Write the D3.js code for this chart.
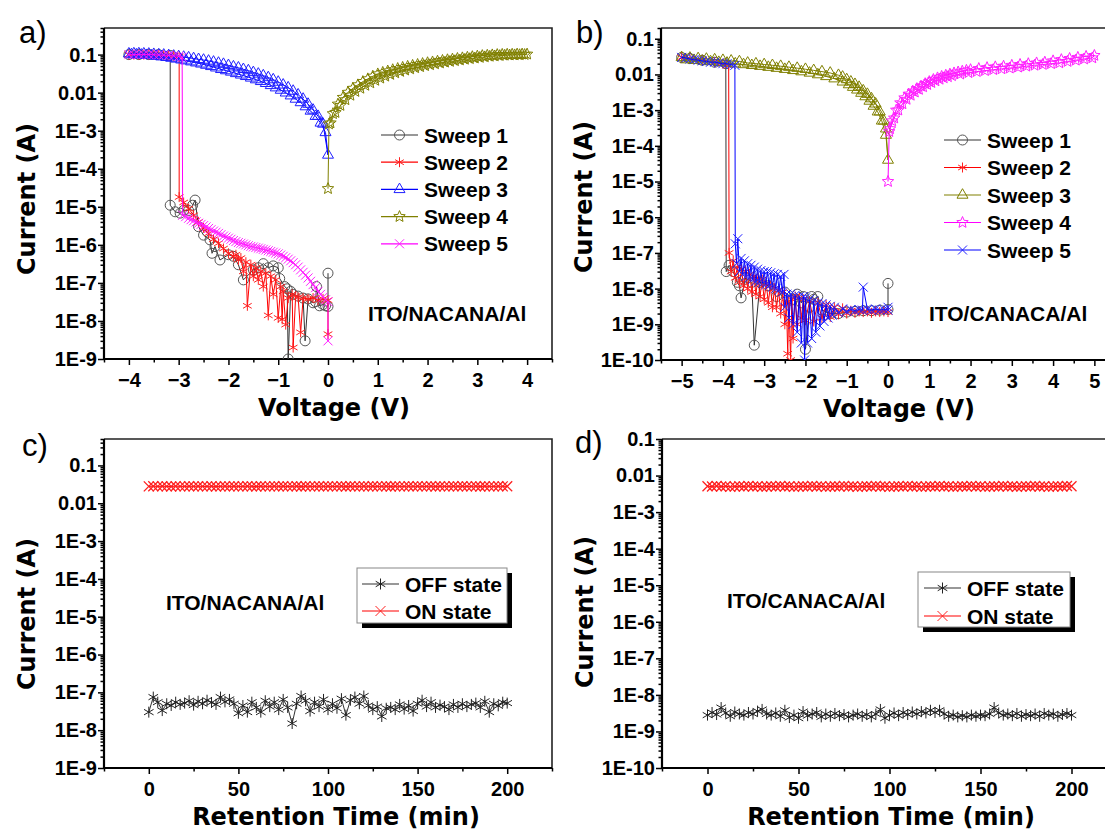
<!DOCTYPE html>
<html>
<head>
<meta charset="utf-8">
<script src="https://cdn.jsdelivr.net/npm/d3@7"></script>
<style>
  body { margin: 0; background: #fff; }
  svg { display: block; }
</style>
</head>
<body>
<svg id="chart" width="1105" height="831"></svg>
<script>
// ---------- panel a: ITO/NACANA/Al, I-V sweeps [V, I] ----------
const sweepA1 = [[0,1.8e-7],[0,2.4e-8],[-0.05,2.5e-8],[-0.1,2.7e-8],[-0.17,2.5e-8],[-0.23,8e-8],[-0.25,3.2e-8],[-0.3,3e-8],
  [-0.4,3.8e-8],[-0.46,3e-9],[-0.5,4e-8],[-0.6,4.5e-8],[-0.7,5e-8],[-0.75,6e-8],[-0.8,1e-9],[-0.82,7e-8],[-0.87,8e-8],
  [-0.97,1.3e-7],[-1.0,2.5e-7],[-1.1,2.8e-7],[-1.2,2.5e-7],[-1.3,3.2e-7],[-1.4,2.5e-7],[-1.5,2.2e-7],[-1.7,1.2e-7],
  [-1.8,3e-7],[-1.9,5e-7],[-2.0,5.5e-7],[-2.17,4e-7],[-2.27,9e-7],[-2.33,6e-7],[-2.37,1.35e-6],[-2.5,1.8e-6],[-2.6,3e-6],
  [-2.67,1.5e-5],[-2.72,1.1e-5],[-2.8,8e-6],[-2.9,8.1e-6],[-2.97,6.8e-6],[-3.07,7.4e-6],[-3.17,1.1e-5],[-3.17,0.095],
  [-3.4,0.1],[-3.6,0.1],[-3.8,0.1],[-4.0,0.1]];
const sweepA2 = [[0,4.5e-9],[0,3.5e-8],[-0.1,3.8e-8],[-0.2,3.5e-8],[-0.3,4e-8],[-0.4,3.8e-8],[-0.5,4e-8],[-0.55,5e-9],
  [-0.6,4.2e-8],[-0.65,4.5e-8],[-0.7,2e-9],[-0.72,5e-8],[-0.8,4e-8],[-0.85,8e-9],[-0.9,6e-8],[-0.92,1.1e-8],[-0.95,8e-8],
  [-1.0,1.2e-8],[-1.05,1.2e-7],[-1.1,5e-8],[-1.15,1.5e-7],[-1.2,1.4e-8],[-1.25,1.8e-7],[-1.3,8e-8],[-1.35,2e-7],
  [-1.4,1.2e-7],[-1.45,2.5e-7],[-1.5,1.5e-7],[-1.55,3e-7],[-1.62,2.5e-8],[-1.65,3.5e-7],[-1.7,2e-7],[-1.75,4.5e-7],
  [-1.8,4e-7],[-1.85,5.5e-7],[-1.9,5e-7],[-2.0,6e-7],[-2.1,8e-7],[-2.2,1.1e-6],[-2.3,1.4e-6],[-2.4,2e-6],[-2.5,2.8e-6],
  [-2.6,4e-6],[-2.7,6e-6],[-2.8,9e-6],[-2.9,1.3e-5],[-2.99,1.8e-5],[-2.99,0.09],[-3.1,0.093],[-3.2,0.095],[-3.3,0.097],
  [-3.4,0.1],[-3.5,0.1],[-3.6,0.1],[-3.7,0.1],[-3.8,0.1],[-3.9,0.1],[-4.0,0.1]];
const sweepA3 = [[-4.0,0.105],[-3.9,0.106],[-3.8,0.106],[-3.7,0.105],[-3.6,0.104],[-3.5,0.102],[-3.4,0.1],[-3.3,0.098],
  [-3.2,0.095],[-3.1,0.092],[-3.0,0.089],[-2.9,0.086],[-2.8,0.083],[-2.7,0.079],[-2.6,0.075],[-2.5,0.072],[-2.4,0.068],
  [-2.3,0.064],[-2.2,0.06],[-2.1,0.056],[-2.0,0.052],[-1.9,0.048],[-1.8,0.045],[-1.7,0.041],[-1.6,0.038],[-1.5,0.034],
  [-1.4,0.031],[-1.3,0.028],[-1.2,0.025],[-1.1,0.022],[-1.0,0.019],[-0.9,0.016],[-0.8,0.0135],[-0.7,0.011],[-0.6,0.0088],
  [-0.5,0.0068],[-0.4,0.005],[-0.3,0.0035],[-0.2,0.0024],[-0.1,0.0015],[0,2.3e-4]];
const sweepA3back = [[-0.05,0.0009],[-0.15,0.0016],[-0.25,0.0024],[-0.35,0.0033],[-0.45,0.0043],[-0.55,0.0055],
  [-0.65,0.0068],[-0.75,0.0083],[-0.85,0.0099],[-0.95,0.0117],[-1.05,0.0135],[-1.15,0.0155],[-1.25,0.0176],[-1.35,0.0198],
  [-1.45,0.022],[-1.55,0.0244],[-1.65,0.0268],[-1.75,0.0293],[-1.85,0.032],[-1.95,0.035],[-2.05,0.038],[-2.15,0.041],
  [-2.25,0.045],[-2.35,0.049],[-2.45,0.053],[-2.55,0.057],[-2.65,0.061],[-2.75,0.065],[-2.85,0.069],[-2.95,0.073],
  [-3.05,0.077],[-3.15,0.081],[-3.25,0.085],[-3.35,0.088],[-3.45,0.091],[-3.55,0.094],[-3.65,0.096],[-3.75,0.098],
  [-3.85,0.099],[-3.95,0.1]];
const sweepA4 = [[0,3e-5],[0.02,1.5e-3],[0.1,0.0028],[0.2,0.005],[0.3,0.0075],[0.4,0.0102],[0.5,0.013],[0.6,0.016],
  [0.7,0.0195],[0.8,0.023],[0.9,0.027],[1.0,0.031],[1.1,0.034],[1.2,0.037],[1.3,0.04],[1.4,0.043],[1.5,0.046],[1.6,0.049],
  [1.7,0.052],[1.8,0.055],[1.9,0.058],[2.0,0.061],[2.1,0.064],[2.2,0.067],[2.3,0.07],[2.4,0.073],[2.5,0.076],[2.6,0.079],
  [2.7,0.082],[2.8,0.085],[2.9,0.088],[3.0,0.091],[3.1,0.094],[3.2,0.096],[3.3,0.098],[3.4,0.1],[3.5,0.101],[3.6,0.102],
  [3.7,0.102],[3.8,0.103],[3.9,0.103],[4.0,0.103]];
const sweepA4back = [[3.95,0.1],[3.85,0.099],[3.75,0.098],[3.65,0.097],[3.55,0.096],[3.45,0.094],[3.35,0.092],
  [3.25,0.09],[3.15,0.087],[3.05,0.084],[2.95,0.081],[2.85,0.078],[2.75,0.075],[2.65,0.072],[2.55,0.069],[2.45,0.066],
  [2.35,0.063],[2.25,0.06],[2.15,0.057],[2.05,0.054],[1.95,0.051],[1.85,0.048],[1.75,0.045],[1.65,0.042],[1.55,0.039],
  [1.45,0.036],[1.35,0.033],[1.25,0.03],[1.15,0.027],[1.05,0.024],[0.95,0.021],[0.85,0.018],[0.75,0.0155],[0.65,0.013],
  [0.55,0.0107],[0.45,0.0085],[0.35,0.0065],[0.25,0.0046],[0.15,0.003],[0.05,0.0016]];
const sweepA5 = [[0,3e-9],[0,3.2e-8],[-0.05,3.6e-8],[-0.1,4.2e-8],[-0.15,5e-8],[-0.2,6e-8],[-0.25,7.5e-8],[-0.3,9e-8],
  [-0.35,1.1e-7],[-0.4,1.35e-7],[-0.45,1.6e-7],[-0.5,1.9e-7],[-0.55,2.2e-7],[-0.6,2.6e-7],[-0.65,3e-7],[-0.7,3.4e-7],
  [-0.75,3.8e-7],[-0.8,4.2e-7],[-0.85,4.6e-7],[-0.9,5e-7],[-0.95,5.4e-7],[-1.0,5.8e-7],[-1.05,6.1e-7],[-1.1,6.4e-7],
  [-1.15,6.7e-7],[-1.2,7e-7],[-1.25,7.3e-7],[-1.3,7.6e-7],[-1.35,7.9e-7],[-1.4,8.2e-7],[-1.45,8.5e-7],[-1.5,8.8e-7],
  [-1.55,9.1e-7],[-1.6,9.5e-7],[-1.65,1e-6],[-1.7,1.05e-6],[-1.75,1.1e-6],[-1.8,1.15e-6],[-1.85,1.22e-6],[-1.9,1.3e-6],
  [-1.95,1.4e-6],[-2.0,1.5e-6],[-2.05,1.6e-6],[-2.1,1.7e-6],[-2.15,1.85e-6],[-2.2,2e-6],[-2.25,2.15e-6],[-2.3,2.3e-6],
  [-2.35,2.5e-6],[-2.4,2.7e-6],[-2.45,2.95e-6],[-2.5,3.2e-6],[-2.55,3.45e-6],[-2.6,3.7e-6],[-2.65,4e-6],[-2.7,4.3e-6],
  [-2.75,4.6e-6],[-2.8,5e-6],[-2.86,5.5e-6],[-2.92,6e-6],[-2.93,0.085],[-3.0,0.09],[-3.1,0.093],[-3.2,0.095],[-3.3,0.097],
  [-3.4,0.098],[-3.5,0.1],[-3.6,0.1],[-3.7,0.101],[-3.8,0.101],[-3.9,0.1],[-4.0,0.1]];

// ---------- panel b: ITO/CANACA/Al, I-V sweeps [V, I] ----------
const sweepB1 = [[0,1.4e-8],[0,2.6e-9],[-0.2,2.5e-9],[-0.4,2.4e-9],[-0.6,2.4e-9],[-0.8,2.3e-9],[-1.0,2.2e-9],[-1.2,2e-9],
  [-1.4,2e-9],[-1.6,2.5e-9],[-1.7,6e-9],[-1.8,5e-9],[-1.85,6e-9],[-1.9,3e-9],[-2.0,2e-10],[-2.05,6e-9],[-2.1,4e-9],
  [-2.2,7e-9],[-2.3,5e-9],[-2.5,8e-9],[-2.7,6e-9],[-2.9,1.2e-8],[-3.1,1.5e-8],[-3.24,2.6e-10],[-3.3,1.5e-8],[-3.45,2e-8],
  [-3.56,5.5e-9],[-3.6,1.2e-8],[-3.65,1.5e-8],[-3.75,3e-8],[-3.85,4.5e-8],[-3.92,3e-8],[-3.93,0.02],[-4.2,0.022],
  [-4.5,0.025],[-4.8,0.028],[-5.0,0.03]];
const sweepB2 = [[0,2.2e-9],[-0.1,2.3e-9],[-0.2,2.2e-9],[-0.3,2.3e-9],[-0.4,2.1e-9],[-0.5,2.3e-9],[-0.6,2.2e-9],
  [-0.7,2.3e-9],[-0.8,2.1e-9],[-0.9,2.4e-9],[-1.0,2e-9],[-1.1,2.8e-9],[-1.2,1.9e-9],[-1.3,3e-9],[-1.4,1.6e-9],[-1.5,3.5e-9],
  [-1.6,1.5e-9],[-1.7,4e-9],[-1.8,1.2e-9],[-1.9,4.5e-9],[-2.0,1.3e-9],[-2.05,5e-9],[-2.1,1.5e-9],[-2.15,5.5e-9],
  [-2.2,1e-9],[-2.25,6e-9],[-2.3,4e-10],[-2.33,5e-9],[-2.36,1e-10],[-2.4,4e-9],[-2.43,1.5e-10],[-2.46,4e-9],[-2.5,1e-9],
  [-2.55,8e-9],[-2.6,2e-9],[-2.65,9e-9],[-2.7,3e-9],[-2.75,1e-8],[-2.8,3e-9],[-2.85,1.2e-8],[-2.9,4e-9],[-2.95,1.4e-8],
  [-3.0,5e-9],[-3.05,1.8e-8],[-3.1,6e-9],[-3.15,2e-8],[-3.2,7e-9],[-3.25,2.2e-8],[-3.3,8e-9],[-3.35,2.5e-8],[-3.4,1e-8],
  [-3.45,3e-8],[-3.5,1.2e-8],[-3.55,3.5e-8],[-3.6,1.5e-8],[-3.65,4e-8],[-3.7,2e-8],[-3.75,6e-8],[-3.8,3e-8],[-3.85,1e-7],
  [-3.86,0.018],[-4.0,0.02],[-4.2,0.022],[-4.5,0.025],[-4.8,0.028],[-5.0,0.03]];
const sweepB3 = [[-5.0,0.03],[-4.8,0.029],[-4.6,0.028],[-4.4,0.027],[-4.2,0.026],[-4.0,0.025],[-3.8,0.024],[-3.6,0.023],
  [-3.4,0.021],[-3.2,0.02],[-3.0,0.019],[-2.8,0.018],[-2.6,0.017],[-2.4,0.016],[-2.2,0.015],[-2.0,0.014],[-1.8,0.013],
  [-1.6,0.012],[-1.4,0.011],[-1.2,0.0095],[-1.1,0.0085],[-1.0,0.0072],[-0.9,0.0062],[-0.8,0.0053],[-0.7,0.0044],
  [-0.6,0.0035],[-0.5,0.0028],[-0.4,0.0021],[-0.3,0.0015],[-0.2,9e-4],[-0.1,5e-4],[-0.05,3e-4],[0,4e-5]];
const sweepB3back = [[-0.05,2e-4],[-0.15,5e-4],[-0.25,9e-4],[-0.35,0.0013],[-0.45,0.0018],[-0.55,0.0024],[-0.65,0.003],
  [-0.75,0.0037],[-0.85,0.0044],[-0.95,0.0052],[-1.1,0.0062],[-1.3,0.0076],[-1.5,0.0088],[-1.7,0.0099],[-1.9,0.011],
  [-2.1,0.012],[-2.3,0.013],[-2.5,0.014],[-2.7,0.015],[-2.9,0.016],[-3.1,0.017],[-3.3,0.018],[-3.5,0.019],[-3.7,0.02],
  [-3.9,0.021],[-4.1,0.022],[-4.3,0.023],[-4.5,0.024],[-4.7,0.025],[-4.9,0.026]];
const sweepB4 = [[0,1e-5],[0.03,2.5e-4],[0.1,5e-4],[0.2,0.001],[0.3,0.0016],[0.4,0.0022],[0.5,0.0028],[0.6,0.0034],
  [0.7,0.004],[0.8,0.0047],[0.9,0.0055],[1.0,0.0063],[1.1,0.0072],[1.2,0.008],[1.3,0.0088],[1.4,0.0095],[1.5,0.0102],
  [1.6,0.011],[1.7,0.0117],[1.8,0.0123],[1.9,0.013],[2.0,0.0136],[2.2,0.0146],[2.4,0.0155],[2.6,0.0163],[2.8,0.017],
  [3.0,0.018],[3.2,0.019],[3.4,0.02],[3.6,0.021],[3.8,0.022],[4.0,0.024],[4.2,0.026],[4.4,0.028],[4.6,0.03],[4.8,0.032],
  [5.0,0.034]];
const sweepB4back = [[4.95,0.029],[4.75,0.027],[4.55,0.025],[4.35,0.023],[4.15,0.021],[3.95,0.02],[3.75,0.019],
  [3.55,0.018],[3.35,0.017],[3.15,0.016],[2.95,0.015],[2.75,0.0143],[2.55,0.0136],[2.35,0.0128],[2.15,0.012],
  [1.95,0.0112],[1.75,0.0102],[1.55,0.0092],[1.45,0.0086],[1.35,0.008],[1.25,0.0073],[1.15,0.0066],[1.05,0.0059],
  [0.95,0.0052],[0.85,0.0045],[0.75,0.0038],[0.65,0.0032],[0.55,0.0026],[0.45,0.002],[0.35,0.0015],[0.25,0.001],
  [0.15,6e-4],[0.05,3e-4]];
const sweepB5 = [[0,3e-9],[0,2.5e-9],[-0.1,2.6e-9],[-0.2,2.5e-9],[-0.3,2.7e-9],[-0.4,2.5e-9],[-0.5,2.6e-9],[-0.6,1.1e-8],
  [-0.62,2.5e-9],[-0.7,2.6e-9],[-0.8,2.4e-9],[-0.9,2.6e-9],[-1.0,2.3e-9],[-1.1,2.7e-9],[-1.2,2.1e-9],[-1.3,3e-9],
  [-1.35,1.8e-9],[-1.4,3.2e-9],[-1.45,1.5e-9],[-1.5,3.5e-9],[-1.55,1.2e-9],[-1.6,3.8e-9],[-1.65,9e-10],[-1.7,4e-9],
  [-1.75,6e-10],[-1.8,4.5e-9],[-1.85,4e-10],[-1.9,5e-9],[-1.95,3e-10],[-2.0,5.5e-9],[-2.02,1e-10],[-2.05,6e-9],
  [-2.1,3e-10],[-2.15,6e-9],[-2.2,6e-10],[-2.25,6.5e-9],[-2.3,1e-9],[-2.35,7e-9],[-2.4,1.5e-9],[-2.45,7e-9],[-2.5,3e-9],
  [-2.52,2.5e-8],[-2.56,8e-9],[-2.6,2.2e-8],[-2.64,9e-9],[-2.68,2.5e-8],[-2.72,1e-8],[-2.76,2.6e-8],[-2.8,1.1e-8],
  [-2.84,2.8e-8],[-2.88,1.2e-8],[-2.92,3e-8],[-2.96,1.3e-8],[-3.0,3e-8],[-3.04,1.4e-8],[-3.08,3.2e-8],[-3.12,1.5e-8],
  [-3.16,3.5e-8],[-3.2,1.6e-8],[-3.24,4e-8],[-3.28,1.8e-8],[-3.32,4.5e-8],[-3.36,2e-8],[-3.4,5e-8],[-3.44,2.2e-8],
  [-3.48,6e-8],[-3.52,2.5e-8],[-3.56,7e-8],[-3.6,3e-8],[-3.64,2.5e-7],[-3.67,5e-8],[-3.7,1.8e-7],[-3.71,0.018],
  [-3.8,0.019],[-3.9,0.02],[-4.0,0.02],[-4.1,0.021],[-4.2,0.022],[-4.3,0.022],[-4.4,0.023],[-4.5,0.024],[-4.6,0.025],
  [-4.7,0.026],[-4.8,0.027],[-4.9,0.029],[-5.0,0.03]];

// ---------- panels c, d: retention (every 2.5 min) ----------
const retentionTime = d3.range(0, 200.1, 2.5);
const offC = [3.0e-8,7.5e-8,5.5e-8,3.3e-8,5.0e-8,4.5e-8,5.5e-8,4.8e-8,5.2e-8,6.0e-8,4.6e-8,5.8e-8,5.0e-8,6.2e-8,5.4e-8,
  4.8e-8,7.5e-8,5.6e-8,6.5e-8,5.0e-8,2.8e-8,4.5e-8,3.0e-8,5.5e-8,4.0e-8,3.0e-8,6.0e-8,4.2e-8,5.5e-8,3.5e-8,6.5e-8,4.0e-8,
  1.5e-8,5.0e-8,8.0e-8,6.0e-8,3.2e-8,5.5e-8,4.2e-8,6.5e-8,3.5e-8,5.0e-8,3.8e-8,6.8e-8,2.5e-8,6.2e-8,7.5e-8,5.0e-8,8.0e-8,
  4.5e-8,3.5e-8,4.2e-8,2.3e-8,3.8e-8,4.0e-8,3.5e-8,4.8e-8,3.6e-8,4.5e-8,3.2e-8,5.0e-8,6.2e-8,4.2e-8,5.5e-8,4.0e-8,4.6e-8,
  4.2e-8,3.5e-8,4.8e-8,4.0e-8,5.0e-8,4.2e-8,4.8e-8,5.2e-8,4.0e-8,5.8e-8,3.0e-8,5.0e-8,4.4e-8,5.5e-8,5.2e-8];
const onC = [0.028,0.0282,0.0279,0.0281,0.028,0.0278,0.0282,0.028,0.0279,0.0281,0.028,0.0282,0.0279,0.028,0.0281,0.0278,
  0.028,0.0282,0.0279,0.0281,0.028,0.0279,0.0282,0.028,0.0278,0.0281,0.028,0.0279,0.0282,0.028,0.0281,0.0279,0.028,
  0.0282,0.0278,0.0281,0.028,0.0279,0.0282,0.028,0.0281,0.0279,0.028,0.0282,0.0278,0.0281,0.028,0.0279,0.0282,0.028,
  0.0281,0.0279,0.028,0.0282,0.0278,0.0281,0.028,0.0279,0.0282,0.028,0.0281,0.0279,0.028,0.0282,0.0278,0.0281,0.028,
  0.0279,0.0282,0.028,0.0281,0.0279,0.028,0.0282,0.0278,0.0281,0.028,0.0279,0.0282,0.028,0.0281];
const offD = [2.8e-9,3.3e-9,2.9e-9,4.5e-9,3.2e-9,2.6e-9,3.4e-9,3.0e-9,2.8e-9,3.3e-9,3.0e-9,3.6e-9,4.0e-9,3.0e-9,2.8e-9,
  3.2e-9,2.6e-9,3.8e-9,2.4e-9,2.8e-9,2.3e-9,3.5e-9,2.7e-9,3.0e-9,3.3e-9,2.5e-9,3.0e-9,2.6e-9,3.1e-9,2.7e-9,2.9e-9,2.5e-9,
  2.8e-9,3.0e-9,2.6e-9,2.9e-9,2.5e-9,3.0e-9,4.0e-9,2.3e-9,2.8e-9,3.2e-9,2.7e-9,3.3e-9,2.9e-9,3.4e-9,3.0e-9,3.5e-9,3.2e-9,
  3.8e-9,3.3e-9,3.8e-9,3.0e-9,2.6e-9,2.8e-9,2.5e-9,2.7e-9,2.5e-9,2.8e-9,2.6e-9,2.8e-9,2.7e-9,3.0e-9,4.5e-9,3.2e-9,2.8e-9,
  3.0e-9,2.7e-9,3.1e-9,2.6e-9,2.9e-9,2.7e-9,3.0e-9,2.6e-9,3.1e-9,2.8e-9,3.0e-9,2.6e-9,2.9e-9,3.1e-9,2.8e-9];
const onD = [0.0051,0.005,0.0052,0.005,0.0051,0.0049,0.005,0.0051,0.005,0.0052,0.005,0.0051,0.0049,0.005,0.0051,0.005,
  0.0052,0.005,0.0051,0.0049,0.005,0.0051,0.005,0.0052,0.005,0.0051,0.0049,0.005,0.0051,0.005,0.0052,0.005,0.0051,0.0049,
  0.005,0.0051,0.005,0.0052,0.005,0.0051,0.0049,0.005,0.0051,0.005,0.0052,0.005,0.0051,0.0049,0.005,0.0051,0.005,0.0052,
  0.005,0.0051,0.0049,0.005,0.0051,0.005,0.0052,0.005,0.0051,0.0049,0.005,0.0051,0.005,0.0052,0.005,0.0051,0.0049,0.005,
  0.0051,0.005,0.0052,0.005,0.0051,0.0049,0.005,0.0051,0.005,0.0052,0.0051];

// ---------- ticks ----------
const voltTicksA = [-4, -3, -2, -1, 0, 1, 2, 3, 4];
const voltTicksB = [-5, -4, -3, -2, -1, 0, 1, 2, 3, 4, 5];
const timeTicks = [0, 50, 100, 150, 200];
const currentTicks9 = [1e-9, 1e-8, 1e-7, 1e-6, 1e-5, 1e-4, 1e-3, 0.01, 0.1];
const currentTicks10 = [1e-10, 1e-9, 1e-8, 1e-7, 1e-6, 1e-5, 1e-4, 1e-3, 0.01, 0.1];
const sweepNames = ['Sweep 1', 'Sweep 2', 'Sweep 3', 'Sweep 4', 'Sweep 5'];
const stateNames = ['OFF state', 'ON state'];

const svg = d3.select('#chart');
const TICK_FONT = '"Liberation Sans", Arial, sans-serif';
const TITLE_FONT = '"DejaVu Sans", Arial, sans-serif';

const markers = {
  circle: r => `M${-r},0A${r},${r} 0 1,0 ${r},0A${r},${r} 0 1,0 ${-r},0Z`,
  triangle: r => `M0,${-r * 1.15}L${r},${r * 0.58}L${-r},${r * 0.58}Z`,
  star: r => d3.range(10).map(i => {
    const a = Math.PI * i / 5 - Math.PI / 2;
    const rr = i % 2 ? r * 0.45 : r;
    return (i ? 'L' : 'M') + (rr * Math.cos(a)).toFixed(2) + ',' + (rr * Math.sin(a)).toFixed(2);
  }).join('') + 'Z',
  times: r => `M${-r},${-r}L${r},${r}M${-r},${r}L${r},${-r}`,
  asterisk: r => `M0,${-r}V${r}M${-r * 0.87},${-r / 2}L${r * 0.87},${r / 2}M${-r * 0.87},${r / 2}L${r * 0.87},${-r / 2}`
};

const fmtCurrent = v => v >= 0.01 ? String(v) : '1E' + Math.round(Math.log10(v));

function drawPanel(p) {
  const [x0, y0, x1, y1] = p.box;
  const x = d3.scaleLinear().domain(p.xDomain).range([x0, x1]);
  const y = d3.scaleLog().domain(p.yDomain).range([y1, y0]);
  const g = svg.append('g');

  g.append('clipPath').attr('id', 'clip-' + p.id)
    .append('rect').attr('x', x0).attr('y', y0).attr('width', x1 - x0).attr('height', y1 - y0);

  // minor ticks
  const yMinor = [];
  for (let e = Math.floor(Math.log10(p.yDomain[0])); e <= Math.ceil(Math.log10(p.yDomain[1])); e++) {
    for (let k = 2; k <= 9; k++) {
      const v = k * Math.pow(10, e);
      if (v > p.yDomain[0] && v <= p.yDomain[1] * 1.0001) yMinor.push(v);
    }
  }
  g.append('g').attr('transform', `translate(${x0},0)`)
    .call(d3.axisLeft(y).tickValues(yMinor).tickFormat('').tickSize(3.5))
    .call(a => a.select('.domain').remove());
  g.append('g').attr('transform', `translate(0,${y1})`)
    .call(d3.axisBottom(x).tickValues(p.xMinor).tickFormat('').tickSize(3.5))
    .call(a => a.select('.domain').remove());

  // major ticks
  g.append('g').attr('transform', `translate(${x0},0)`)
    .call(d3.axisLeft(y).tickValues(p.yTicks).tickFormat(fmtCurrent).tickSize(6).tickPadding(1))
    .call(a => a.select('.domain').remove());
  g.append('g').attr('transform', `translate(0,${y1})`)
    .call(d3.axisBottom(x).tickValues(p.xTicks).tickFormat(d3.format('d')).tickSize(6).tickPadding(8))
    .call(a => a.select('.domain').remove());

  g.selectAll('.tick line').attr('stroke', '#000').attr('stroke-width', 1.5);
  g.selectAll('.tick text').attr('font-family', TICK_FONT).attr('font-weight', 'bold')
    .attr('font-size', 20).attr('fill', '#000');

  // frame
  g.append('path').attr('d', `M${x0},${y0}H${x1}V${y1}`)
    .attr('fill', 'none').attr('stroke', '#222').attr('stroke-width', 1.6);
  g.append('path').attr('d', `M${x0},${y0}V${y1}H${x1}`)
    .attr('fill', 'none').attr('stroke', '#000').attr('stroke-width', 2.2);

  // series
  const plot = g.append('g').attr('clip-path', `url(#clip-${p.id})`);
  p.series.forEach(s => {
    plot.append('path').datum(s.data)
      .attr('d', d3.line().x(d => x(d[0])).y(d => y(d[1])))
      .attr('fill', 'none').attr('stroke', s.line).attr('stroke-width', 1);
    plot.append('g').selectAll('path').data(s.data).join('path')
      .attr('transform', d => `translate(${x(d[0])},${y(d[1])})`)
      .attr('d', markers[s.marker](s.size))
      .attr('fill', 'none').attr('stroke', s.color).attr('stroke-width', s.sw || 1);
  });

  // legend
  const L = p.legend;
  if (L.box) {
    const [bx, by, bw, bh] = L.box;
    g.append('rect').attr('x', bx + 5).attr('y', by + 5).attr('width', bw).attr('height', bh).attr('fill', '#000');
    g.append('rect').attr('x', bx).attr('y', by).attr('width', bw).attr('height', bh)
      .attr('fill', '#fff').attr('stroke', '#888').attr('stroke-width', 1);
  }
  p.series.forEach((s, i) => {
    const ly = L.y + i * L.dy;
    g.append('line').attr('x1', L.x).attr('x2', L.x + 37).attr('y1', ly).attr('y2', ly)
      .attr('stroke', s.line).attr('stroke-width', 1.2);
    g.append('path').attr('transform', `translate(${L.x + 18.5},${ly})`)
      .attr('d', markers[s.marker](s.size))
      .attr('fill', 'none').attr('stroke', s.color).attr('stroke-width', 1);
    g.append('text').attr('x', L.x + 43).attr('y', ly).attr('dy', '0.36em')
      .attr('font-family', TICK_FONT).attr('font-weight', 'bold').attr('font-size', 21)
      .text(s.name);
  });

  // note, panel label, titles
  g.append('text').attr('x', p.note.x).attr('y', p.note.y)
    .attr('font-family', TICK_FONT).attr('font-weight', 'bold').attr('font-size', 21)
    .text(p.note.text);
  g.append('text').attr('x', p.label.x).attr('y', p.label.y)
    .attr('font-family', TICK_FONT).attr('font-size', 31).text(p.label.text);
  g.append('text').attr('x', p.xTitleX).attr('y', y1 + 57)
    .attr('text-anchor', 'middle').attr('font-family', TITLE_FONT).attr('font-weight', 'bold')
    .attr('font-size', 24).text(p.xTitle);
  g.append('text').attr('transform', `translate(${p.yTitleX},${p.yTitleY}) rotate(-90)`)
    .attr('text-anchor', 'middle').attr('dy', '0.36em').attr('font-family', TITLE_FONT)
    .attr('font-weight', 'bold').attr('font-size', 24).text('Current (A)');
}

const toPairs = vals => vals.map((v, i) => [retentionTime[i], v]);

drawPanel({
  id: 'a', box: [104, 28, 552, 359], xDomain: [-4.5, 4.5], yDomain: [1e-9, 0.5],
  xTicks: voltTicksA, xMinor: [-4.5, -3.5, -2.5, -1.5, -0.5, 0.5, 1.5, 2.5, 3.5, 4.5], yTicks: currentTicks9,
  xTitle: 'Voltage (V)', xTitleX: 334, yTitleX: 26, yTitleY: 199,
  series: [
    { name: sweepNames[0], data: sweepA1, line: '#333', color: '#555', marker: 'circle', size: 5 },
    { name: sweepNames[1], data: sweepA2, line: '#ff0000', color: '#ff2020', marker: 'asterisk', size: 5 },
    { name: sweepNames[2], data: sweepA3.concat(sweepA3back), line: '#0000ff', color: '#2020ff', marker: 'triangle', size: 5.5 },
    { name: sweepNames[3], data: sweepA4.concat(sweepA4back), line: '#808000', color: '#808000', marker: 'star', size: 6 },
    { name: sweepNames[4], data: sweepA5, line: '#ff00ff', color: '#ff20ff', marker: 'times', size: 4.5 }
  ],
  legend: { x: 381, y: 135, dy: 27.2 },
  note: { text: 'ITO/NACANA/Al', x: 368, y: 321 },
  label: { text: 'a)', x: 19, y: 43 }
});

drawPanel({
  id: 'b', box: [661, 28, 1115, 360], xDomain: [-5.5, 5.5], yDomain: [1e-10, 0.2],
  xTicks: voltTicksB, xMinor: [-5.5, -4.5, -3.5, -2.5, -1.5, -0.5, 0.5, 1.5, 2.5, 3.5, 4.5], yTicks: currentTicks10,
  xTitle: 'Voltage (V)', xTitleX: 899, yTitleX: 583, yTitleY: 197,
  series: [
    { name: sweepNames[0], data: sweepB1, line: '#333', color: '#555', marker: 'circle', size: 5 },
    { name: sweepNames[1], data: sweepB2, line: '#ff0000', color: '#ff2020', marker: 'asterisk', size: 5 },
    { name: sweepNames[2], data: sweepB3.concat(sweepB3back), line: '#808000', color: '#808000', marker: 'triangle', size: 5.5 },
    { name: sweepNames[3], data: sweepB4.concat(sweepB4back), line: '#ff00ff', color: '#ff20ff', marker: 'star', size: 6 },
    { name: sweepNames[4], data: sweepB5, line: '#0000ff', color: '#2020ff', marker: 'times', size: 4.5 }
  ],
  legend: { x: 944, y: 140, dy: 27.5 },
  note: { text: 'ITO/CANACA/Al', x: 929, y: 321 },
  label: { text: 'b)', x: 576, y: 43 }
});

drawPanel({
  id: 'c', box: [104, 439, 552, 768], xDomain: [-25, 225], yDomain: [1e-9, 0.5],
  xTicks: timeTicks, xMinor: [-25, 25, 75, 125, 175, 225], yTicks: currentTicks9,
  xTitle: 'Retention Time (min)', xTitleX: 336, yTitleX: 26, yTitleY: 614,
  series: [
    { name: stateNames[0], data: toPairs(offC), line: '#333', color: '#222', marker: 'asterisk', size: 5.5 },
    { name: stateNames[1], data: toPairs(onC), line: '#ff0000', color: '#ff2020', marker: 'times', size: 5, sw: 1.3 }
  ],
  legend: { x: 362, y: 584, dy: 27, box: [357, 568, 150, 55] },
  note: { text: 'ITO/NACANA/Al', x: 166, y: 610 },
  label: { text: 'c)', x: 22, y: 456 }
});

drawPanel({
  id: 'd', box: [662, 439, 1117, 768], xDomain: [-25, 225], yDomain: [1e-10, 0.1],
  xTicks: timeTicks, xMinor: [-25, 25, 75, 125, 175, 225], yTicks: currentTicks10,
  xTitle: 'Retention Time (min)', xTitleX: 891, yTitleX: 584, yTitleY: 612,
  series: [
    { name: stateNames[0], data: toPairs(offD), line: '#333', color: '#222', marker: 'asterisk', size: 5.5 },
    { name: stateNames[1], data: toPairs(onD), line: '#ff0000', color: '#ff2020', marker: 'times', size: 5, sw: 1.3 }
  ],
  legend: { x: 924, y: 588, dy: 28, box: [918, 572, 152, 55] },
  note: { text: 'ITO/CANACA/Al', x: 727, y: 608 },
  label: { text: 'd)', x: 575, y: 453 }
});
</script>
</body>
</html>
